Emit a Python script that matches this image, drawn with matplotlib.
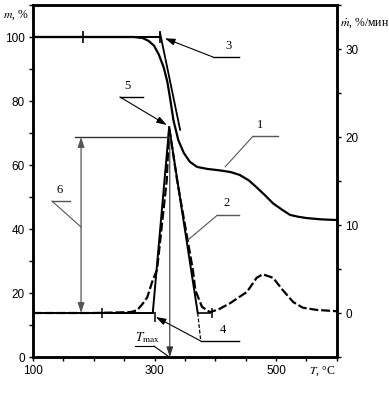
import numpy as np
import matplotlib.pyplot as plt

# TG curve: mass, %
tg_T = [100, 200, 265, 280, 290, 299, 307, 315, 321, 326, 331, 339, 348, 358,
        370, 386, 408, 425, 440, 455, 468, 482, 495, 510, 523, 537, 551, 575, 600]
tg_m = [100, 100, 100, 99.7, 98.8, 97.3, 94.5, 90.5, 86, 80.3, 74, 67.8, 63.8, 61,
        59.4, 58.8, 58.3, 57.8, 56.9, 55.2, 53, 50.5, 48, 46, 44.4, 43.8, 43.4, 43.0, 42.8]

# DTG curve: mass loss rate, %/min
dtg_T = [100, 200, 260, 271, 281, 288, 297, 304, 312, 320, 324, 337, 350, 363,
         367, 378, 391, 405, 424, 452, 468, 478, 495, 511, 528, 544, 567, 600]
dtg_v = [0, 0, 0.1, 0.3, 1.1, 1.8, 3.75, 4.9, 10, 15.1, 21.1, 15.1, 10, 4.9,
         2.6, 0.7, 0.1, 0.4, 1.1, 2.4, 4.0, 4.4, 4.0, 2.6, 1.25, 0.6, 0.35, 0.2]

x_ticks = [100, 300, 500]
m_ticks = [0, 20, 40, 60, 80, 100]
v_ticks = [0, 10, 20, 30]

serif = 'Liberation Serif'
sans = 'Liberation Sans'
plt.rcParams['mathtext.fontset'] = 'stix'

fig = plt.figure(figsize=(3.89, 4.0), dpi=100)
ax = fig.add_axes([0.085, 0.1075, 0.781, 0.88])
ax2 = ax.twinx()

ax.set_xlim(100, 600)
ax.set_ylim(0, 110)
ax2.set_ylim(-5, 35)

for a in (ax, ax2):
    for s in a.spines.values():
        s.set_linewidth(1.8)

ax.set_xticks(np.arange(100, 601, 50))
ax.set_xticklabels([str(t) if t in x_ticks else '' for t in range(100, 601, 50)])
ax.set_yticks(np.arange(0, 111, 10))
ax.set_yticklabels([str(t) if t in m_ticks else '' for t in range(0, 111, 10)])
ax2.set_yticks(np.arange(-5, 36, 5))
ax2.set_yticklabels([str(t) if t in v_ticks else '' for t in range(-5, 36, 5)])
for a in (ax, ax2):
    a.tick_params(direction='out', length=3, width=1, labelsize=8.5, pad=3)
    for lab in a.get_xticklabels() + a.get_yticklabels():
        lab.set_family(sans)

# curves
ax.plot(tg_T, tg_m, color='black', lw=1.6)
ax2.plot(dtg_T, dtg_v, color='black', lw=1.6, ls=(0, (4, 1.3)))

ipk = int(np.argmax(dtg_v))
pk_T, pk_v = dtg_T[ipk], dtg_v[ipk]

# TG tangent construction
ax.plot([100, 309], [100, 100], color='black', lw=1.5)
ax.plot([309, 342], [101.3, 71], color='black', lw=1.3)
ax.plot([183, 309], [100, 100], ls='none', marker='|', ms=8, mew=1.2, color='black')

# DTG tangents
ax2.plot([100, 297], [0, 0], color='black', lw=1.4)
ax2.plot([297, pk_T], [0, pk_v], color='black', lw=1.4)
ax2.plot([pk_T, 371], [pk_v, 0], color='black', lw=1.4)
ax2.plot([371, 376], [0, -3.2], color='black', lw=0.9, ls=(0, (3, 1.5)))
ax2.plot([371, 392], [0, 0], color='black', lw=1.2)
ax2.plot([213, 300, 394], [0, -0.4, 0], ls='none', marker='|', ms=7, mew=1.1, color='black')

# peak height (6)
ax2.plot([169, pk_T], [20, 20], color='#333333', lw=1.0)
ax2.annotate('', xy=(179, 20), xytext=(179, 0),
             arrowprops=dict(arrowstyle='<|-|>,head_length=0.6,head_width=0.2',
                             color='#555555', lw=0.9, shrinkA=0, shrinkB=0))
# T_max
ax2.annotate('', xy=(pk_T + 1, -5), xytext=(pk_T + 1, pk_v - 1),
             arrowprops=dict(arrowstyle='-|>,head_length=0.6,head_width=0.2',
                             color='#333333', lw=0.8, shrinkA=0, shrinkB=0),
             annotation_clip=False)

def leader(x0, x1, y, tip, label, lab_x, lab_y, arrow=False, color='black', target=ax):
    target.plot([x0, x1], [y, y], color=color, lw=1.0)
    style = '-|>,head_length=0.6,head_width=0.2' if arrow else '-'
    target.annotate('', xy=tip, xytext=(x0, y),
                    arrowprops=dict(arrowstyle=style, color=color, lw=0.8,
                                    shrinkA=0, shrinkB=0))
    target.text(lab_x, lab_y, label, family=serif, fontsize=9, ha='center', va='bottom')

leader(462, 503, 69, (416, 59.4), '1', 473, 70.5, color='#555555')
leader(403, 439, 11.1, (355, 8.3), '2', 419, 11.8, color='#555555', target=ax2)
leader(396, 439, 93.75, (317, 99.6), '3', 421, 95.3, arrow=True)
leader(376, 439, 5.0, (302, 12.5), '4', 412, 6.5, arrow=True)
leader(243, 281, 81.25, (320, 72.5), '5', 256, 82.8, arrow=True)
leader(131, 161, 48.75, (179, 40.6), '6', 144, 50.3, color='#555555')

# T_max label
ax.plot([268, 299], [3.4, 3.4], color='black', lw=0.8)
ax.plot([299, 322], [3.4, 0.3], color='black', lw=0.8)
ax.text(268, 3.9, r'$T_{\mathrm{max}}$', fontsize=9.5, ha='left', va='bottom')

# axis titles
fig.text(0.008, 0.962, r'$m$, %', family=serif, fontsize=8.5, ha='left', va='center')
fig.text(0.874, 0.943, r'$\dot{m}$, %/мин', family=serif, fontsize=8.5, ha='left', va='center')
fig.text(0.863, 0.073, r'$T$, °C', family=serif, fontsize=8.5, ha='right', va='center')

fig.savefig('out.png', dpi=100, facecolor='white')
